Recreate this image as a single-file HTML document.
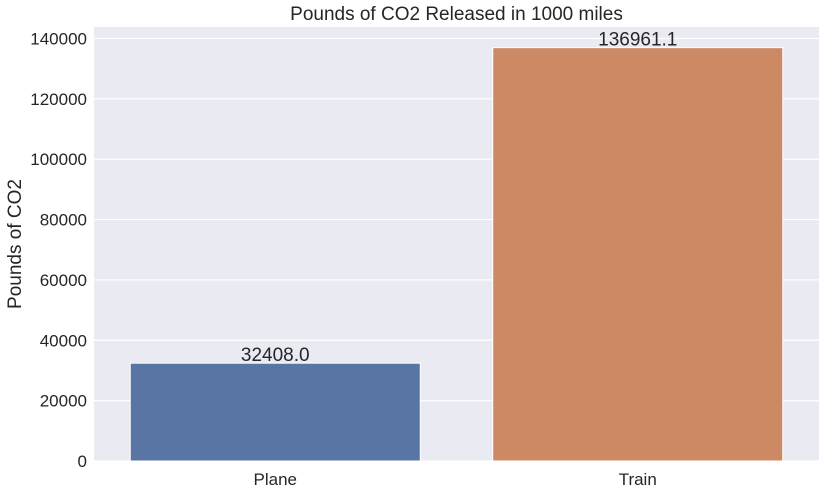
<!DOCTYPE html>
<html><head><meta charset="utf-8"><style>
body{margin:0;background:#fff;font-family:"Liberation Sans",sans-serif;}
</style></head><body>
<svg width="826" height="493" font-family="Liberation Sans, sans-serif">
<g id="root"></g>
</svg>
<script>
const categories=["Plane","Train"];
const values=[32408.0,136961.1];
const labels=["32408.0","136961.1"];
const yTicks=[0,20000,40000,60000,80000,100000,120000,140000];
const colors=["#5875a4","#cc8963"];
const L=94,R=819,T=27,B=461;
const yMax=Math.max(...values)*1.05;
const y=v=>B-(v/yMax)*(B-T);
const bw=(R-L)/categories.length;
const x=i=>L+bw*i;
const ns="http://www.w3.org/2000/svg";
const root=document.getElementById('root');
function mk(tag,attrs,text){const e=document.createElementNS(ns,tag);for(const k in attrs)e.setAttribute(k,attrs[k]);if(text!==undefined)e.textContent=text;root.appendChild(e);return e;}
let e=mk('rect',{x:L,y:T,width:R-L,height:B-T,fill:'#eaeaf2'});


yTicks.forEach(t=>{
 let g=mk('line',{x1:L,x2:R,y1:y(t),y2:y(t),stroke:'#fff','stroke-width':1.2});
 
 
 let tl=mk('text',{x:L-7,y:y(t)+6,'text-anchor':'end','font-size':17,fill:'#262626'},String(t));
 
 
});
categories.forEach((c,i)=>{
 const w=bw*0.8, x0=x(i)+bw*0.1;
 let b=mk('rect',{x:x0,y:y(values[i]),width:w,height:B-y(values[i]),fill:colors[i],stroke:'#fff','stroke-width':1});
 
 
 let v=mk('text',{x:x0+w/2,y:y(values[i])-2,'text-anchor':'middle','font-size':19,fill:'#262626'},labels[i]);
 
 
 let cl=mk('text',{x:x0+w/2,y:485,'text-anchor':'middle','font-size':17,fill:'#262626'},c);
 
 
});
let tt=mk('text',{x:(L+R)/2,y:20,'text-anchor':'middle','font-size':19,fill:'#262626'},'Pounds of CO2 Released in 1000 miles');


let yl=mk('text',{x:0,y:0,'text-anchor':'middle','font-size':19,fill:'#262626',transform:'translate(21,'+((T+B)/2)+') rotate(-90)'},'Pounds of CO2');


</script>
</body></html>
